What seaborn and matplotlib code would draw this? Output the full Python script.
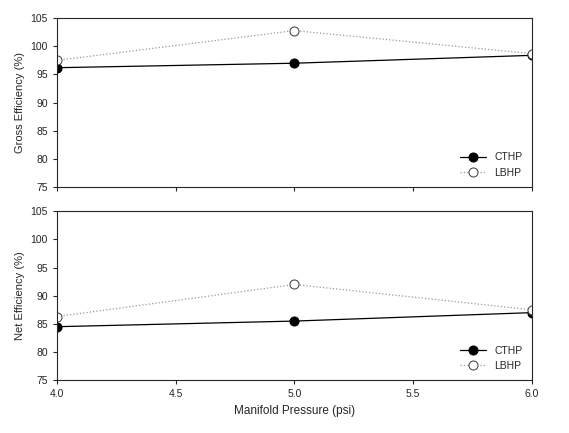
import numpy as np
import pandas as pd
import matplotlib
matplotlib.use("Agg")
import matplotlib.pyplot as plt
import seaborn as sns

pressure = [4.0, 5.0, 6.0]
gross_cthp = [96.2, 97.0, 98.4]
gross_lbhp = [97.5, 102.8, 98.7]
net_cthp = [84.5, 85.5, 87.0]
net_lbhp = [86.3, 92.0, 87.5]

sns.set_style("ticks")
plt.rcParams['font.family'] = ['Arial', 'Liberation Sans', 'DejaVu Sans']

fig = plt.figure(figsize=(5.69, 4.33), dpi=100)
ax1 = fig.add_axes([0.100, 0.568, 0.835, 0.390])
ax2 = fig.add_axes([0.100, 0.122, 0.835, 0.390])

def panel(ax, cthp, lbhp, ylabel):
    sns.lineplot(x=pressure, y=cthp, ax=ax, color='black', lw=0.9, marker='o',
                 markersize=6.5, markerfacecolor='black', markeredgecolor='black', label='CTHP')
    sns.lineplot(x=pressure, y=lbhp, ax=ax, color='#999999', lw=0.9, ls=':', marker='o',
                 markersize=6.5, markerfacecolor='white', markeredgecolor='#444444', label='LBHP')
    ax.set_xlim(4.0, 6.0)
    ax.set_ylim(75, 105)
    ax.set_yticks(range(75, 106, 5))
    ax.set_xticks([4.0, 4.5, 5.0, 5.5, 6.0])
    ax.set_ylabel(ylabel, fontsize=8)
    ax.tick_params(labelsize=7.5, length=3)
    for s in ax.spines.values():
        s.set_visible(True)
        s.set_linewidth(0.8)
    ax.legend(loc='lower right', frameon=False, fontsize=7.5, handlelength=2.5)

panel(ax1, gross_cthp, gross_lbhp, 'Gross Efficiency (%)')
panel(ax2, net_cthp, net_lbhp, 'Net Efficiency (%)')
ax1.set_xticklabels([])
ax2.set_xticklabels(['4.0', '4.5', '5.0', '5.5', '6.0'])
ax2.set_xlabel('Manifold Pressure (psi)', fontsize=8.5)

fig.savefig('out.png', dpi=100)
